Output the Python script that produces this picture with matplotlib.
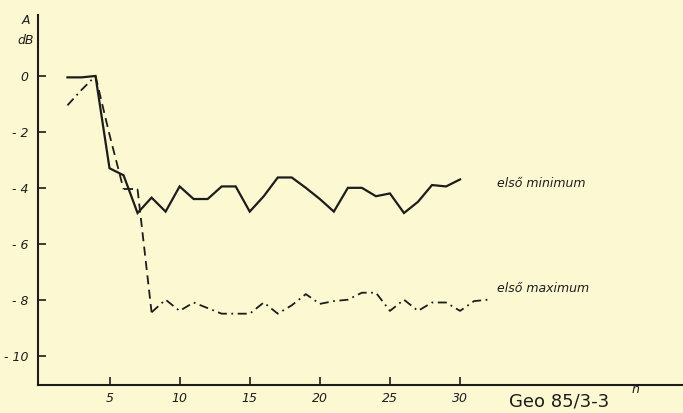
import matplotlib
matplotlib.use("Agg")
import matplotlib.pyplot as plt

# első minimum (solid), n = 2..30
n_min = list(range(2, 31))
a_min = [-0.05, -0.05, 0.0, -3.3, -3.55, -4.9, -4.35, -4.85, -3.95, -4.4,
         -4.4, -3.95, -3.95, -4.85, -4.3, -3.63, -3.63, -4.0, -4.4, -4.85,
         -4.0, -4.0, -4.3, -4.2, -4.9, -4.5, -3.9, -3.95, -3.7]

# első maximum (dashed / dash-dot), n = 2..32
n_max = list(range(2, 33))
a_max = [-1.05, -0.5, 0.0, -2.1, -4.05, -4.05, -8.45, -8.0, -8.4, -8.1,
         -8.3, -8.5, -8.5, -8.5, -8.1, -8.5, -8.2, -7.8, -8.15, -8.05,
         -8.0, -7.75, -7.75, -8.4, -8.0, -8.4, -8.1, -8.1, -8.4, -8.05, -8.0]

yticks = [0, -2, -4, -6, -8, -10]
ytick_labels = ["0", "- 2", "- 4", "- 6", "- 8", "- 10"]
xticks = [5, 10, 15, 20, 25, 30]

paper = "#fcf9d2"
ink = "#1c1c1c"

fig = plt.figure(figsize=(6.83, 4.13), dpi=100, facecolor=paper)
ax = fig.add_axes([38 / 683, 28 / 413, 645 / 683, 370 / 413])
ax.set_facecolor(paper)

ax.plot(n_min, a_min, color=ink, lw=1.6, solid_joinstyle="miter")

# maximum curve: dash-dot pieces, with long dashes on the steep drops
dashdot = (0, (5, 2.5, 1, 2.5))
dashed = (0, (5, 3))
pieces = [(0, 3, dashdot), (2, 5, dashed), (4, 6, dashdot), (5, 7, dashed),
          (6, len(n_max), dashdot)]
for i0, i1, ls in pieces:
    ax.plot(n_max[i0:i1], a_max[i0:i1], color=ink, lw=1.3, linestyle=ls)

ax.set_xlim(-0.1, 45.9)
ax.set_ylim(-11.05, 2.18)

for s in ("top", "right"):
    ax.spines[s].set_visible(False)
for s in ("left", "bottom"):
    ax.spines[s].set_color(ink)
    ax.spines[s].set_linewidth(1.5)

font = dict(family="DejaVu Sans", style="italic", color=ink)
ax.set_yticks(yticks)
ax.set_yticklabels(ytick_labels, fontsize=9, **font)
ax.set_xticks(xticks)
ax.set_xticklabels([str(v) for v in xticks], fontsize=9, **font)
ax.tick_params(axis="both", direction="in", length=6, width=1.2, color=ink, pad=5)
ax.tick_params(axis="y", pad=7)

ax.text(-0.95, 2.0, "A", fontsize=9, ha="center", va="center", **font)
ax.text(-0.95, 1.28, "dB", fontsize=9, ha="center", va="center", **font)

ax.text(32.6, -3.85, "első minimum", fontsize=9, ha="left", va="center", **font)
ax.text(32.6, -7.6, "első maximum", fontsize=9, ha="left", va="center", **font)

ax.text(42.5, -11.2, "n", fontsize=9, ha="center", va="center", clip_on=False, **font)
ax.text(37.1, -11.65, "Geo 85/3-3", fontsize=13, ha="center", va="center",
        clip_on=False, family="DejaVu Sans", color=ink)

fig.savefig("out.png", dpi=100, facecolor=paper)
